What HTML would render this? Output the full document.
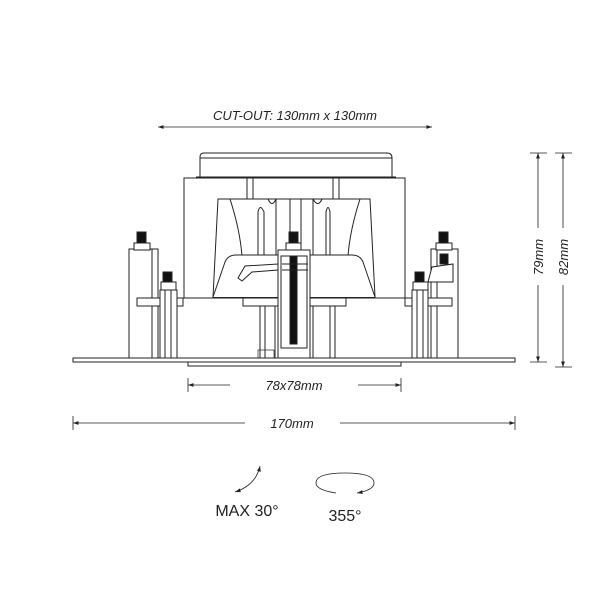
<!DOCTYPE html>
<html><head><meta charset="utf-8"><style>
html,body{margin:0;padding:0;background:#fff;}
svg{display:block;}
text{font-family:"Liberation Sans",sans-serif;fill:#222;}
</style></head><body>
<svg width="600" height="600" viewBox="0 0 600 600" xmlns="http://www.w3.org/2000/svg">
<defs>
<marker id="ah" viewBox="0 0 10 10" refX="10" refY="5" markerWidth="7" markerHeight="7" orient="auto-start-reverse"><path d="M0,1.5 L10,5 L0,8.5 Z" fill="#222"/></marker>
</defs>
<g fill="none" stroke="#222" stroke-width="1">
<!-- top cap -->
<path d="M200,177 L200,157 Q200,153 204,153 L387,153 Q392,153 392,158 L392,177"/>
<line x1="200" y1="158" x2="392" y2="158"/>
<line x1="196" y1="177" x2="396" y2="177"/>
<!-- main box -->
<rect x="184" y="178" width="221" height="120" fill="#fff"/>
<line x1="247" y1="178" x2="247" y2="199"/><line x1="253" y1="178" x2="253" y2="199"/>
<line x1="333" y1="178" x2="333" y2="199"/><line x1="339" y1="178" x2="339" y2="199"/>
<!-- heatsink -->
<path d="M218,199 L370,199 L375,297 L213,297 Z" fill="#fff"/>
<path d="M230,199 Q240,230 242,256"/><path d="M360,199 Q350,230 348,256"/>
<path d="M258,256 L258,212 Q260,203 264,212 L264,256"/>
<path d="M326,256 L326,212 Q328,203 330,212 L330,256"/>
<line x1="276" y1="199" x2="276" y2="256"/><line x1="290" y1="199" x2="290" y2="256"/>
<line x1="301" y1="199" x2="301" y2="256"/><line x1="313" y1="199" x2="313" y2="256"/>
<path d="M268,199 Q272,208 276,199"/><path d="M313,199 Q318,208 322,199"/>
<!-- shoulder -->
<path d="M213,297 L225,262 Q228,255 236,255 L352,255 Q360,255 363,262 L375,297" fill="#fff"/>
<!-- bars -->
<line x1="137" y1="298" x2="452" y2="298"/>
<rect x="137" y="298" width="46" height="8" fill="#fff"/>
<rect x="243" y="298" width="103" height="8" fill="#fff"/>
<rect x="405" y="298" width="47" height="8" fill="#fff"/>
<!-- central stems -->
<rect x="260" y="306" width="15" height="52"/><line x1="265" y1="306" x2="265" y2="358"/>
<rect x="313" y="306" width="22" height="52"/><line x1="330" y1="306" x2="330" y2="358"/>
<rect x="258" y="350" width="16" height="8" stroke-width="0.7"/>
<!-- central piece -->
<rect x="278" y="250" width="32" height="108" fill="#fff"/>
<rect x="281" y="256" width="26" height="92"/>
<rect x="290" y="256" width="7" height="88" fill="#111"/>
<path d="M238,278 L245,266 L278,264 L278,270 L252,272 L242,281 Z" fill="#fff"/>
<line x1="282" y1="264" x2="308" y2="264"/><line x1="282" y1="270" x2="308" y2="270"/>
<rect x="289" y="232" width="9" height="11" fill="#111"/>
<rect x="286" y="243" width="15" height="7" fill="#fff"/>
<!-- left bracket -->
<rect x="129" y="249" width="29" height="109" fill="#fff"/>
<line x1="152" y1="249" x2="152" y2="358"/>
<rect x="137" y="232" width="9" height="12" fill="#111"/>
<rect x="134" y="243" width="16" height="7" fill="#fff"/>
<rect x="137" y="298" width="23" height="8" fill="#fff"/>
<rect x="160" y="290" width="17" height="68" fill="#fff"/>
<line x1="165" y1="290" x2="165" y2="358"/><line x1="171" y1="290" x2="171" y2="358"/>
<rect x="163" y="272" width="9" height="11" fill="#111"/>
<rect x="161" y="282" width="15" height="8" fill="#fff"/>
<!-- right bracket -->
<rect x="431" y="249" width="27" height="109" fill="#fff"/>
<line x1="437" y1="249" x2="437" y2="358"/>
<rect x="439" y="232" width="9" height="12" fill="#111"/>
<rect x="436" y="243" width="16" height="7" fill="#fff"/>
<rect x="440" y="254" width="8" height="10" fill="#111"/>
<path d="M428,282 L432,267 L453,264 L453,282 Z" fill="#fff"/>
<rect x="428" y="298" width="24" height="8" fill="#fff"/>
<rect x="412" y="290" width="16" height="68" fill="#fff"/>
<line x1="417" y1="290" x2="417" y2="358"/><line x1="423" y1="290" x2="423" y2="358"/>
<rect x="415" y="272" width="9" height="11" fill="#111"/>
<rect x="413" y="282" width="15" height="8" fill="#fff"/>
<!-- bottom plate -->
<rect x="73" y="358" width="442" height="4" fill="#fff"/>
<rect x="188" y="362" width="213" height="4" fill="#fff"/>
<!-- dimensions -->
<line x1="158" y1="127" x2="432" y2="127" stroke-width="0.8" marker-start="url(#ah)" marker-end="url(#ah)"/>
<line x1="188" y1="385" x2="230" y2="385" stroke-width="0.8" marker-start="url(#ah)"/>
<line x1="358" y1="385" x2="401" y2="385" stroke-width="0.8" marker-end="url(#ah)"/>
<line x1="188" y1="378" x2="188" y2="392" stroke-width="0.8"/><line x1="401" y1="378" x2="401" y2="392" stroke-width="0.8"/>
<line x1="73" y1="423" x2="245" y2="423" stroke-width="0.8" marker-start="url(#ah)"/>
<line x1="340" y1="423" x2="515" y2="423" stroke-width="0.8" marker-end="url(#ah)"/>
<line x1="73" y1="416" x2="73" y2="430" stroke-width="0.8"/><line x1="515" y1="416" x2="515" y2="430" stroke-width="0.8"/>
<line x1="538" y1="153" x2="538" y2="228" stroke-width="0.8" marker-start="url(#ah)"/>
<line x1="538" y1="285" x2="538" y2="362" stroke-width="0.8" marker-end="url(#ah)"/>
<line x1="530" y1="153" x2="547" y2="153" stroke-width="0.8"/><line x1="530" y1="362" x2="547" y2="362" stroke-width="0.8"/>
<line x1="563" y1="153" x2="563" y2="228" stroke-width="0.8" marker-start="url(#ah)"/>
<line x1="563" y1="285" x2="563" y2="367" stroke-width="0.8" marker-end="url(#ah)"/>
<line x1="555" y1="153" x2="572" y2="153" stroke-width="0.8"/><line x1="555" y1="367" x2="572" y2="367" stroke-width="0.8"/>
<!-- icons -->
<path d="M260,466 Q256,485 235,492" stroke-width="0.8" marker-start="url(#ah)" marker-end="url(#ah)"/>
<path d="M336,493 Q316,490 316,483 Q316,473 345,473 Q374,473 374,483 Q374,490 357,493" stroke-width="0.8" marker-end="url(#ah)"/>
</g>
<text x="295" y="120" font-size="13" font-style="italic" text-anchor="middle">CUT-OUT: 130mm x 130mm</text>
<text x="294" y="390" font-size="13" font-style="italic" text-anchor="middle">78x78mm</text>
<text x="292" y="428" font-size="13" font-style="italic" text-anchor="middle">170mm</text>
<text transform="translate(543,257) rotate(-90)" font-size="13" font-style="italic" text-anchor="middle">79mm</text>
<text transform="translate(568,257) rotate(-90)" font-size="13" font-style="italic" text-anchor="middle">82mm</text>
<text x="247" y="516" font-size="16" text-anchor="middle">MAX 30°</text>
<text x="345" y="521" font-size="16" text-anchor="middle">355°</text>
</svg>
</body></html>
